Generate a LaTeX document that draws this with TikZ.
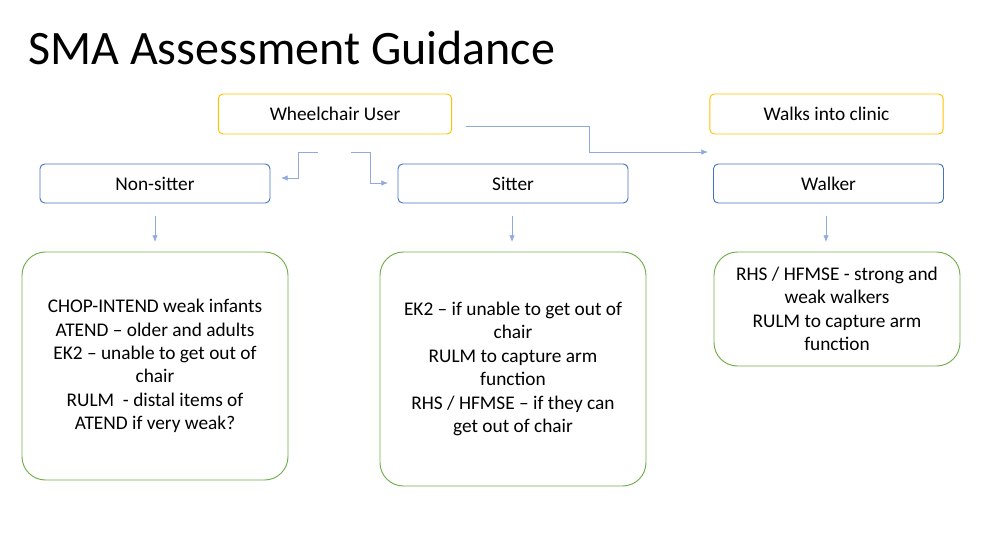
\documentclass[tikz,border=0pt]{standalone}
\usepackage{fontspec}
\setmainfont{Carlito}
\usetikzlibrary{positioning,arrows.meta}
\definecolor{boxblue}{RGB}{68,114,196}
\definecolor{boxyellow}{RGB}{255,192,0}
\definecolor{boxgreen}{RGB}{112,173,71}
\definecolor{linkblue}{RGB}{143,170,220}

\begin{document}
\begin{tikzpicture}[x=0.03cm, y=-0.03cm, thick,
  topbox/.style = {draw=boxyellow, rounded corners=4pt, minimum width=7cm, minimum height=1.2cm, font=\fontsize{16.5}{20}\selectfont},
  catbox/.style = {draw=boxblue, rounded corners=4pt, minimum width=6.9cm, minimum height=1.17cm, font=\fontsize{16.5}{20}\selectfont},
  notebox/.style = {draw=boxgreen, rounded corners=20pt, align=center, font=\fontsize{16.5}{20}\selectfont},
  link/.style = {draw=linkblue, semithick, -{Latex[length=2mm,width=1.6mm]}}]
\useasboundingbox (0,0) rectangle (1000,544);
\node[anchor=west, font=\fontsize{41}{46}\selectfont] (title) at (24,48) {SMA Assessment Guidance};

\node[topbox] (wheel) at (335,114) {Wheelchair User};
\node[topbox] (walks) at (826.5,114) {Walks into clinic};
\node[catbox] (nonsit) at (155,183.5) {Non-sitter};
\node[catbox] (sit) at (513,183.5) {Sitter};
\node[catbox] (walker) at (828.5,183.5) {Walker};

\node[notebox, minimum width=7.98cm, minimum height=6.84cm] (nsnote) at (155,366) {CHOP-INTEND weak infants\\ATEND -- older and adults\\EK2 -- unable to get out of\\chair\\RULM\ \ - distal items of\\ATEND if very weak?};
\node[notebox, minimum width=7.98cm, minimum height=7.02cm] (snote) at (513,369) {EK2 -- if unable to get out of\\chair\\RULM to capture arm\\function\\RHS / HFMSE -- if they can\\get out of chair};
\node[notebox, minimum width=7.38cm, minimum height=3.42cm] (wnote) at (837,309) {RHS / HFMSE - strong and\\weak walkers\\RULM to capture arm\\function};

% connectors with free ends
\coordinate (a1) at (318,152);
\coordinate (a2) at (351,152);
\coordinate (a3) at (466,126);
\draw[link] (a1) -- (298,152) -- (298,178) -- (281,178);
\draw[link] (a2) -- (370,152) -- (370,183) -- (388,183);
\draw[link] (a3) -- (589,126) -- (589,152) -- (708,152);
\draw[link] (155,216) -- (155,242);
\draw[link] (512,216) -- (512,242);
\draw[link] (826,216) -- (826,242);
\end{tikzpicture}
\end{document}
